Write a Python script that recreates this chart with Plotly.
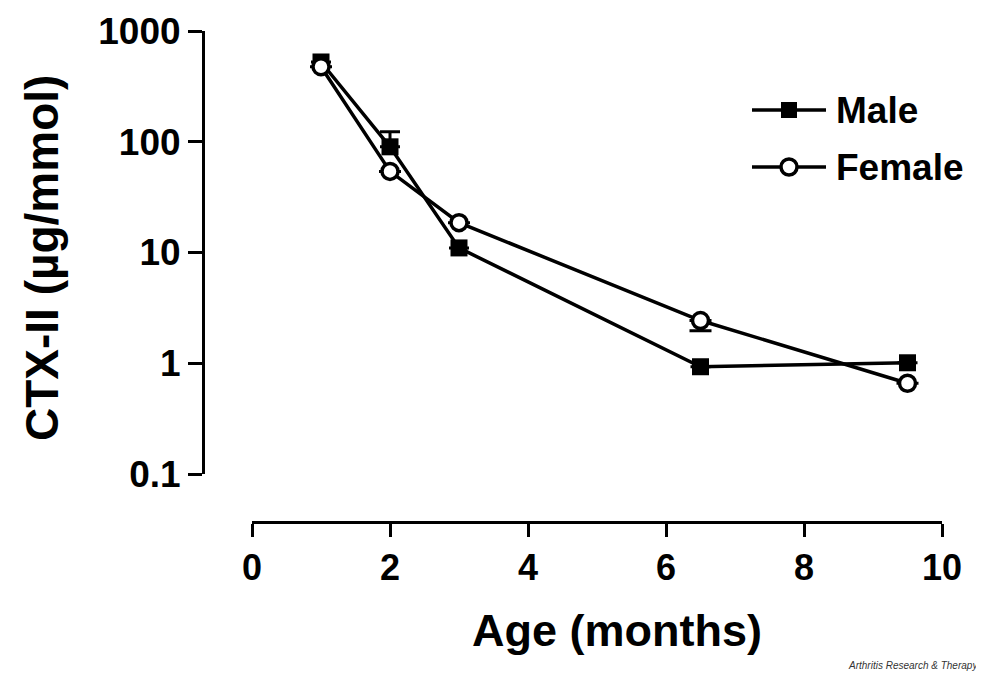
import plotly.graph_objects as go

# The page has an 8px body margin, so the figure is drawn 8px smaller and
# every reference pixel position is shifted by that margin.
OFF = 8
W, H = 984 - OFF, 676 - OFF

# Data
age = [1, 2, 3, 6.5, 9.5]
male = [525, 90, 11.0, 0.93, 1.01]
female = [476, 54, 18.6, 2.43, 0.66]
male_err_plus = [0, 33, 0, 0, 0]
male_err_minus = [0, 0, 0, 0, 0]
female_err_plus = [0, 0, 0, 0, 0]
female_err_minus = [0, 0, 0, 0.46, 0]

y_tickvals = [0.1, 1, 10, 100, 1000]
y_ticktext = ["0.1", "1", "10", "100", "1000"]
x_tickvals = [0, 2, 4, 6, 8, 10]
x_ticktext = ["0", "2", "4", "6", "8", "10"]

FONT = "Liberation Sans, Arial, Helvetica, sans-serif"

fig = go.Figure()
fig.add_trace(go.Scatter(
    x=age, y=male, mode="lines+markers", name="Male",
    line=dict(color="black", width=3.5),
    marker=dict(symbol="square", size=17, color="black"),
    error_y=dict(type="data", symmetric=False, array=male_err_plus,
                 arrayminus=male_err_minus, color="black", thickness=3, width=10),
    showlegend=False,
))
fig.add_trace(go.Scatter(
    x=age, y=female, mode="lines+markers", name="Female",
    line=dict(color="black", width=3.5),
    marker=dict(symbol="circle", size=16, color="white",
                line=dict(color="black", width=3.5)),
    error_y=dict(type="data", symmetric=False, array=female_err_plus,
                 arrayminus=female_err_minus, color="black", thickness=3, width=11),
    showlegend=False,
))

def px(x):
    return (x - OFF) / W

def py(y):
    return (H - (y - OFF)) / H

fig.update_layout(
    width=W, height=H,
    margin=dict(l=0, r=0, t=0, b=0),
    paper_bgcolor="white", plot_bgcolor="white",
    xaxis=dict(
        domain=[px(252), px(942)], range=[0, 10],
        anchor="free", position=py(522),
        showline=True, linecolor="black", linewidth=3,
        ticks="outside", ticklen=13, tickwidth=3, tickcolor="black",
        tickvals=x_tickvals, ticktext=x_ticktext,
        tickfont=dict(family=FONT, size=36, color="black", weight="bold"),
        showgrid=False, zeroline=False, automargin=False,
    ),
    yaxis=dict(
        domain=[py(474), py(31)], type="log", range=[-1, 3],
        anchor="free", position=px(203),
        showline=True, linecolor="black", linewidth=3,
        ticks="outside", ticklen=14, tickwidth=3, tickcolor="black",
        tickvals=y_tickvals, ticktext=y_ticktext,
        tickfont=dict(family=FONT, size=37, color="black", weight="bold"),
        showgrid=False, zeroline=False, automargin=False,
    ),
)

# Axis titles
fig.add_annotation(text="Age (months)", xref="paper", yref="paper",
                   x=px(617), y=py(630), showarrow=False,
                   xanchor="center", yanchor="middle",
                   font=dict(family=FONT, size=45, color="black", weight="bold"))
fig.add_annotation(text="CTX-II (µg/mmol)", xref="paper", yref="paper",
                   x=px(42), y=py(258), showarrow=False, textangle=-90,
                   xanchor="center", yanchor="middle",
                   font=dict(family=FONT, size=46, color="black", weight="bold"))

# Legend (manual)
legend_items = [("Male", 110, "square"), ("Female", 167, "circle")]
for label, ly, sym in legend_items:
    fig.add_shape(type="line", xref="paper", yref="paper",
                  x0=px(752), x1=px(826), y0=py(ly), y1=py(ly),
                  line=dict(color="black", width=3.5))
    if sym == "square":
        fig.add_shape(type="rect", xref="paper", yref="paper",
                      x0=px(781), x1=px(797), y0=py(ly - 8), y1=py(ly + 8),
                      fillcolor="black", line=dict(color="black", width=0))
    else:
        fig.add_shape(type="circle", xref="paper", yref="paper",
                      x0=px(781), x1=px(797), y0=py(ly - 8), y1=py(ly + 8),
                      fillcolor="white", line=dict(color="black", width=3.5))
    fig.add_annotation(text=label, xref="paper", yref="paper",
                       x=px(834), y=py(ly), showarrow=False,
                       xanchor="left", yanchor="middle",
                       font=dict(family=FONT, size=37, color="black", weight="bold"))

# Credit
fig.add_annotation(text="<i>Arthritis Research &amp; Therapy</i>", xref="paper", yref="paper",
                   x=px(980), y=py(665), showarrow=False,
                   xanchor="right", yanchor="middle",
                   font=dict(family=FONT, size=10, color="#333333"))

fig.write_html("out.html")
